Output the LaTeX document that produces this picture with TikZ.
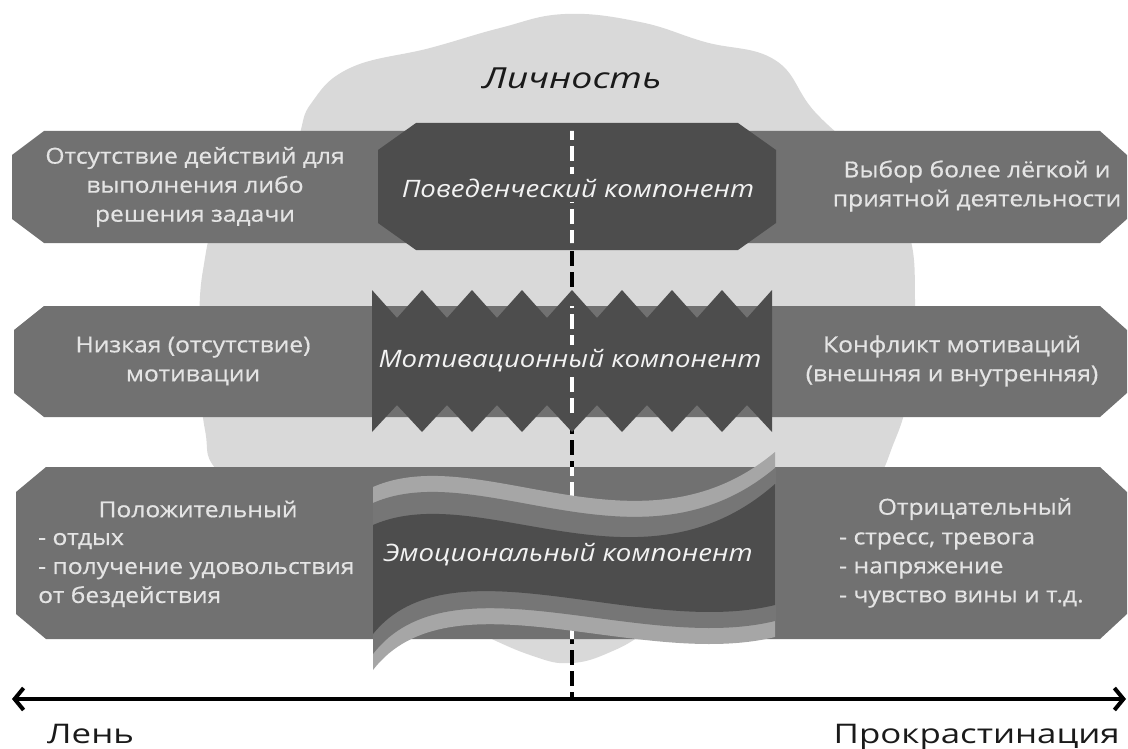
\documentclass[tikz,border=0pt]{standalone}
\usepackage{fontspec}
\setmainfont{Open Sans}
\newfontfamily\sidefont{Open Sans}[FakeStretch=1.12,FakeBold=0.6]
\newfontfamily\compfont{Open Sans}[FakeStretch=1.15]
\newfontfamily\bigfont{Open Sans}[FakeStretch=1.29]
\usetikzlibrary{arrows.meta}
\definecolor{cloudc}{HTML}{D9D9D9}
\definecolor{bandc}{HTML}{717171}
\definecolor{darkc}{HTML}{4D4D4D}
\definecolor{lightc}{HTML}{A6A6A6}
\definecolor{midc}{HTML}{767676}
\definecolor{txtc}{HTML}{E4E4E4}
\definecolor{inkc}{HTML}{1A1A1A}
\begin{document}
\begin{tikzpicture}[x=1pt,y=-1pt,
  sidetxt/.style={text=txtc, font=\sidefont\fontsize{22}{29}\selectfont, align=center},
  comptxt/.style={text=white!95!black, font=\compfont\fontsize{24}{29}\selectfont\itshape, inner sep=5pt},
  axislbl/.style={text=inkc, font=\bigfont\fontsize{27}{32}\selectfont, inner sep=0pt},
  dashline/.style={line width=4.5pt, dash pattern=on 15pt off 6pt}]
\useasboundingbox (0,0) rectangle (1128,749);
% cloud
\fill[cloudc] plot[smooth cycle, tension=0.7] coordinates {
 (565,14) (640,22) (705,42) (775,60) (815,112) (875,170) (908,230) (915,300)
 (910,380) (895,440) (860,500) (760,575) (660,625) (615,650) (572,663)
 (530,655) (460,625) (330,570) (225,480) (205,430) (200,350) (203,270)
 (225,205) (290,150) (310,105) (350,68) (430,48) (500,28)};
% dashed separator (black part)
\coordinate (dtop) at (572,125);
\coordinate (dbot) at (572,699);
\draw[dashline, black] (dtop) -- (dbot);
% bands
\fill[bandc] (12,155) -- (44,131) -- (1100,131) -- (1127,155) -- (1127,219) -- (1100,243) -- (44,243) -- (12,219) -- cycle;
\fill[bandc] (14,330) -- (44,306) -- (1100,306) -- (1127,330) -- (1127,393) -- (1100,417) -- (44,417) -- (14,393) -- cycle;
\fill[bandc] (16,492) -- (46,467) -- (1100,467) -- (1127,492) -- (1127,614) -- (1100,639) -- (46,639) -- (16,614) -- cycle;
% octagon
\fill[darkc] (378,150) -- (416,123) -- (738,123) -- (776,150) -- (776,223) -- (738,250) -- (416,250) -- (378,223) -- cycle;
% zigzag
\fill[darkc] (372,290) \foreach \k in {0,...,7} { -- ({372+50*\k+25},318) -- ({372+50*\k+50},290) }
  -- (772,432) \foreach \k in {0,...,7} { -- ({772-50*\k-25},405) -- ({772-50*\k-50},432) } -- cycle;
% white dashes over bands
\begin{scope}
\clip (0,131) rectangle (1128,243) (0,306) rectangle (1128,417) (0,467) rectangle (1128,639);
\draw[dashline, white] (dtop) -- (dbot);
\end{scope}
% wave
\fill[lightc] (373,487) .. controls (480,440) and (640,565) .. (775,452) -- (775,637) .. controls (640,670) and (450,570) .. (373,670) -- cycle;
\fill[midc] (373,503) .. controls (480,456) and (640,581) .. (775,468) -- (775,621) .. controls (640,654) and (450,554) .. (373,654) -- cycle;
\fill[darkc] (373,525) .. controls (480,478) and (640,603) .. (775,484) -- (775,605) .. controls (640,638) and (450,538) .. (373,634) -- cycle;
% component labels
\node[comptxt, fill=darkc] (beh) at (578,188) {Поведенческий компонент};
\node[comptxt, fill=darkc] (mot) at (570,361) {Мотивационный компонент};
\node[comptxt] (emo) at (568,555) {Эмоциональный компонент};
% side texts
\node[sidetxt] (l1) at (195,187) {Отсутствие действий для\\выполнения либо\\решения задачи};
\node[sidetxt] (r1) at (977,186) {Выбор более лёгкой и\\приятной деятельности};
\node[sidetxt] (l2) at (193,361) {Низкая (отсутствие)\\мотивации};
\node[sidetxt] (r2) at (952,361) {Конфликт мотиваций\\(внешняя и внутренняя)};
\node[sidetxt] (l3h) at (198,509) {Положительный};
\node[sidetxt, align=left, anchor=west, inner sep=0pt] (l3) at (38,570) {- отдых\\- получение удовольствия\\от бездействия};
\node[sidetxt] (r3h) at (975,509) {Отрицательный};
\node[sidetxt, align=left, anchor=west, inner sep=0pt] (r3) at (839,570) {- стресс, тревога\\- напряжение\\- чувство вины и т.д.};
% title
\node[text=inkc, font=\bigfont\fontsize{29}{34}\selectfont\itshape, anchor=base] (pers) at (572,89) {Личность};
% axis
\coordinate (aL) at (12,699);
\coordinate (aR) at (1126,699);
\draw[line width=4pt, {Straight Barb[length=9pt,width=22pt]}-{Straight Barb[length=9pt,width=22pt]}] (aL) -- (aR);
\node[axislbl, anchor=base west] (lazy) at (47,743) {Лень};
\node[axislbl, anchor=base east] (proc) at (1120,743) {Прокрастинация};
\end{tikzpicture}
\end{document}
